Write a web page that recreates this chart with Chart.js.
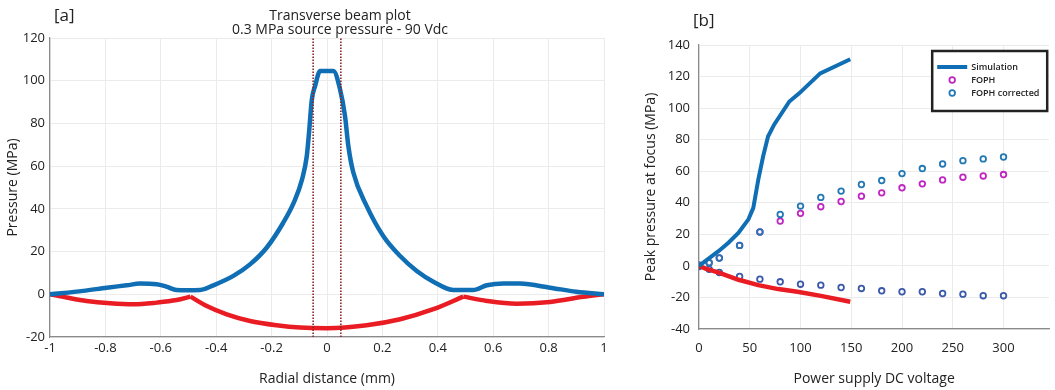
<!DOCTYPE html>
<html>
<head>
<meta charset="utf-8">
<script src="https://cdn.jsdelivr.net/npm/chart.js@4.4.0/dist/chart.umd.min.js"></script>
<style>
html, body { margin: 0; padding: 0; background: #fff; }
body { width: 1055px; height: 390px; position: relative; overflow: hidden; }
#beam { position: absolute; left: 0; top: 0; }
#peak { position: absolute; left: 630px; top: 0; }
</style>
</head>
<body>
<canvas id="beam" width="620" height="390" style="width:620px;height:390px"></canvas>
<canvas id="peak" width="425" height="390" style="width:425px;height:390px"></canvas>
<script>
// [a] Transverse beam plot
var beam_title = ["Transverse beam plot", "0.3 MPa source pressure - 90 Vdc"];
var pos_x = [-1, -0.88, -0.795, -0.723, -0.675, -0.615, -0.58, -0.543, -0.507, -0.458, -0.41, -0.338, -0.278, -0.218, -0.158, -0.12, -0.09, -0.073, -0.064, -0.055, -0.043, -0.025, 0, 0.023, 0.047, 0.065, 0.077, 0.095, 0.143, 0.203, 0.264, 0.324, 0.384, 0.456, 0.528, 0.577, 0.637, 0.697, 0.805, 0.9, 1];
var pos_p = [0, 1.6, 3.1, 4.2, 5.0, 4.7, 3.6, 2.0, 1.9, 2.0, 4.2, 8.6, 14, 21.8, 33.5, 42.9, 53.8, 64.7, 77, 91, 97.5, 104.5, 104.5, 104.5, 96, 83.5, 69.5, 57, 41.4, 27.3, 17.9, 10.9, 5.9, 2.0, 2.0, 4.2, 5.1, 5.0, 3.1, 1.2, 0];
var neg_x = [-1, -0.94, -0.868, -0.783, -0.699, -0.615, -0.543, -0.493, -0.434, -0.362, -0.278, -0.182, -0.097, 0, 0.143, 0.264, 0.384, 0.492, 0.577, 0.685, 0.805, 0.925, 1];
var neg_p = [0, -1.5, -3.1, -4.2, -4.7, -3.9, -2.7, -1.1, -5.5, -9.4, -12.5, -14.5, -15.6, -15.9, -14.5, -11.7, -7, -1.1, -3.1, -4.4, -3.6, -1.2, 0];
var neg_cusps = [-0.493, 0.492];
var focus_edges = [-0.05, 0.05];

// [b] Peak pressure vs supply voltage
var sim_v = [0, 6.5, 19.5, 29, 39, 48.7, 53.5, 58.4, 63.2, 68, 74, 89, 99, 119.4, 149];
var sim_pos = [0, 3.2, 9.5, 14.7, 21, 29.5, 36.8, 54.7, 69.5, 82, 89.5, 104.2, 109.5, 122, 131];
var sim_neg_v = [0, 6.5, 19.5, 39, 58.4, 78, 97, 120, 149];
var sim_neg = [0, -1.7, -4.2, -8.8, -12.2, -14.7, -16.4, -19, -22.7];
var meas_v = [0, 10, 20, 40, 60, 80, 100, 120, 140, 160, 180, 200, 220, 240, 260, 280, 300];
var foph = [0.4, 2, 5, 13, 21.5, 28.4, 33.3, 37.5, 40.8, 44.2, 46.3, 49.5, 52, 54.5, 56.2, 57, 57.9];
var foph_corr = [0.4, 2, 5, 13, 21.5, 32.6, 37.9, 43.4, 47.4, 51.6, 54.1, 58.5, 61.7, 64.6, 66.7, 67.8, 69];
var meas_neg = [-0.4, -2.1, -4.2, -6.7, -8.4, -10.1, -11.6, -12.2, -13.7, -14.3, -15.8, -16.4, -16.4, -17.5, -17.9, -18.9, -18.9];

Chart.defaults.font.family = '"Open Sans", sans-serif';
Chart.defaults.font.size = 13;
Chart.defaults.color = "#222";

const BLUE = "#0f6eb4";
const RED = "#e81c22";
const GRID = "#ebebeb";
const AXIS = "#8a8a8a";
const TITLE_FONT = { size: 14 };

function pairs(xs, ys){
  var out = [];
  for (var i = 0; i < xs.length; i++) {
    out.push({x: xs[i], y: ys[i]});
  }
  return out;
}

// split a curve at its cusp points so each piece keeps a sharp corner
function pieces(xs, ys, cuts){
  var all = pairs(xs, ys);
  var out = [[]];
  for (var i = 0; i < all.length; i++) {
    out[out.length - 1].push(all[i]);
    if (cuts.indexOf(all[i].x) >= 0) {
      out.push([all[i]]);
    }
  }
  return out;
}

const beamText = {
  id: "beamText",
  afterDraw(chart){
    const ctx = chart.ctx;
    const a = chart.chartArea;
    ctx.save();
    ctx.fillStyle = "#222";
    ctx.textBaseline = "middle";
    ctx.textAlign = "left";
    ctx.font = '17px "Open Sans"';
    ctx.fillText("[a]", a.left + 4, 16);
    ctx.font = '14px "Open Sans"';
    ctx.textAlign = "center";
    const cx = (a.left + a.right) / 2 + 13;
    ctx.fillText(beam_title[0], cx, 16);
    ctx.fillText(beam_title[1], cx, 30);
    ctx.restore();
  }
};

const peakText = {
  id: "peakText",
  afterDraw(chart){
    const ctx = chart.ctx;
    const a = chart.chartArea;
    const ds = chart.data.datasets;
    ctx.save();
    ctx.fillStyle = "#222";
    ctx.textBaseline = "middle";
    ctx.font = '17px "Open Sans"';
    ctx.fillText("[b]", a.left - 6, 21);

    // legend box
    const x0 = a.right - 117, y0 = a.top + 6, w = 115, h = 60;
    ctx.fillStyle = "#fff";
    ctx.fillRect(x0, y0, w, h);
    ctx.strokeStyle = "#222";
    ctx.lineWidth = 2.5;
    ctx.strokeRect(x0, y0, w, h);

    ctx.strokeStyle = ds[0].borderColor;
    ctx.lineWidth = 4;
    ctx.beginPath();
    ctx.moveTo(x0 + 5, y0 + 16);
    ctx.lineTo(x0 + 35, y0 + 16);
    ctx.stroke();

    ctx.lineWidth = 1.8;
    ctx.strokeStyle = ds[2].borderColor;
    ctx.beginPath();
    ctx.arc(x0 + 20, y0 + 29, 2.8, 0, 2 * Math.PI);
    ctx.stroke();
    ctx.strokeStyle = ds[3].borderColor;
    ctx.beginPath();
    ctx.arc(x0 + 20, y0 + 42, 2.8, 0, 2 * Math.PI);
    ctx.stroke();

    ctx.fillStyle = "#222";
    ctx.font = '600 9px "Open Sans"';
    ctx.fillText(ds[0].label, x0 + 39, y0 + 16);
    ctx.fillText(ds[2].label, x0 + 39, y0 + 29);
    ctx.fillText(ds[3].label, x0 + 39, y0 + 42);
    ctx.restore();
  }
};

var beamSets = [{
  label: "edge L",
  data: [{x: focus_edges[0], y: -20}, {x: focus_edges[0], y: 120}],
  borderColor: "#8c2626",
  borderWidth: 1.6,
  borderDash: [1.5, 1.5],
  pointRadius: 0
},{
  label: "edge R",
  data: [{x: focus_edges[1], y: -20}, {x: focus_edges[1], y: 120}],
  borderColor: "#8c2626",
  borderWidth: 1.6,
  borderDash: [1.5, 1.5],
  pointRadius: 0
},{
  label: "Positive",
  data: pairs(pos_x, pos_p),
  borderColor: BLUE,
  borderWidth: 4.5,
  pointRadius: 0,
  cubicInterpolationMode: "monotone"
}];
pieces(neg_x, neg_p, neg_cusps).forEach(function(seg){
  beamSets.push({
    label: "Negative",
    data: seg,
    borderColor: RED,
    borderWidth: 4.5,
    pointRadius: 0,
    cubicInterpolationMode: "monotone"
  });
});

new Chart("beam", {
  type: "line",
  data: { datasets: beamSets },
  options: {
    responsive: false,
    animation: false,
    layout: { padding: { top: 38, right: 16, left: 0, bottom: 0 } },
    plugins: { legend: { display: false }, tooltip: { enabled: false } },
    scales: {
      x: {
        type: "linear", min: -1, max: 1,
        ticks: { stepSize: 0.2, padding: 3, callback: function(v){ return String(Math.round(v * 10) / 10); } },
        grid: { color: GRID, drawTicks: false },
        border: { color: AXIS, width: 1.2 },
        title: { display: true, text: "Radial distance (mm)", font: TITLE_FONT, padding: { bottom: 3 } },
        afterFit(axis){ axis.height = 53; }
      },
      y: {
        min: -20, max: 120,
        ticks: { stepSize: 20, padding: 5 },
        grid: { color: GRID, drawTicks: false },
        border: { color: AXIS, width: 1.2 },
        title: { display: true, text: "Pressure (MPa)", font: TITLE_FONT, padding: { top: 5 } },
        afterFit(axis){ axis.width = 50; }
      }
    }
  },
  plugins: [beamText]
});

new Chart("peak", {
  type: "line",
  data: {
    datasets: [{
      label: "Simulation",
      data: pairs(sim_v, sim_pos),
      borderColor: BLUE,
      borderWidth: 4,
      pointRadius: 0,
      tension: 0
    },{
      label: "Simulation negative",
      data: pairs(sim_neg_v, sim_neg),
      borderColor: RED,
      borderWidth: 4.5,
      pointRadius: 0,
      tension: 0
    },{
      label: "FOPH",
      data: pairs(meas_v, foph),
      showLine: false,
      borderColor: "#c026c0",
      backgroundColor: "transparent",
      pointRadius: 2.8,
      pointBorderWidth: 1.8,
      order: 3
    },{
      label: "FOPH corrected",
      data: pairs(meas_v, foph_corr),
      showLine: false,
      borderColor: "#2278b5",
      backgroundColor: "transparent",
      pointRadius: 2.8,
      pointBorderWidth: 1.8,
      order: 2
    },{
      label: "FOPH / FOPH corrected negative",
      data: pairs(meas_v, meas_neg),
      showLine: false,
      borderColor: "#3a59a8",
      backgroundColor: "transparent",
      pointRadius: 2.8,
      pointBorderWidth: 1.8,
      order: 2
    }]
  },
  options: {
    responsive: false,
    animation: false,
    layout: { padding: { top: 45, right: 0, left: 0, bottom: 0 } },
    plugins: { legend: { display: false }, tooltip: { enabled: false } },
    scales: {
      x: {
        type: "linear", min: 0, max: 345,
        ticks: { stepSize: 50, padding: 11 },
        afterBuildTicks(axis){ axis.ticks = axis.ticks.filter(function(t){ return t.value % 50 === 0; }); },
        grid: { color: GRID, drawTicks: false },
        border: { color: AXIS, width: 1.2 },
        title: { display: true, text: "Power supply DC voltage", font: TITLE_FONT, padding: { bottom: 3 } },
        afterFit(axis){ axis.height = 61; }
      },
      y: {
        min: -40, max: 140,
        ticks: { stepSize: 20, padding: 9 },
        grid: { color: GRID, drawTicks: false },
        border: { color: AXIS, width: 1.2 },
        title: { display: true, text: "Peak pressure at focus (MPa)", font: TITLE_FONT, padding: { top: 13 } },
        afterFit(axis){ axis.width = 69; }
      }
    }
  },
  plugins: [peakText]
});
</script>
</body>
</html>
